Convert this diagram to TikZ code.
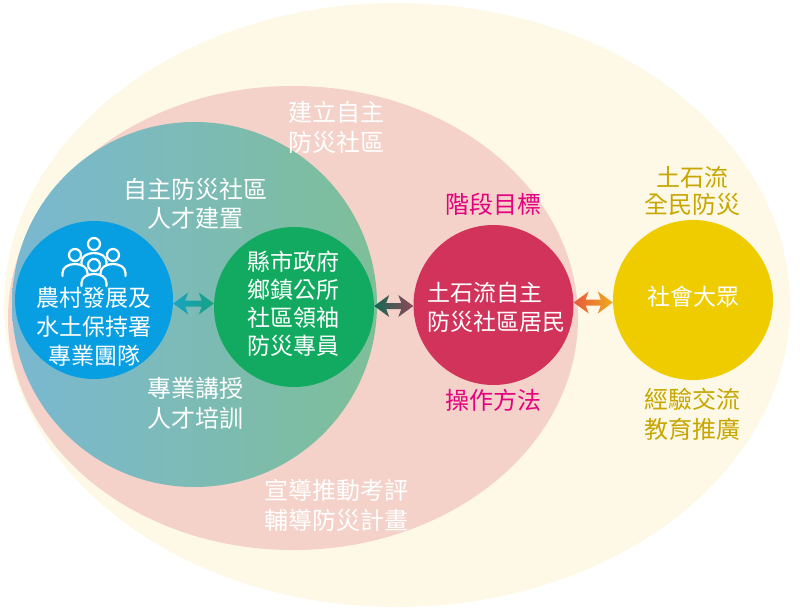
\documentclass[tikz,border=0pt]{standalone}
\usepackage{fontspec}
\setmainfont{Noto Sans CJK TC}
\usetikzlibrary{calc}
\definecolor{outerY}{RGB}{253,249,230}
\definecolor{pinkE}{RGB}{244,210,201}
\definecolor{tealL}{RGB}{122,184,210}
\definecolor{tealR}{RGB}{126,190,152}
\definecolor{blueC}{RGB}{8,158,226}
\definecolor{greenC}{RGB}{18,170,96}
\definecolor{redC}{RGB}{209,51,90}
\definecolor{yelC}{RGB}{239,204,0}
\definecolor{magT}{RGB}{228,0,127}
\definecolor{dyT}{RGB}{200,166,0}
\definecolor{aBl}{RGB}{25,165,195}
\definecolor{aBr}{RGB}{22,160,128}
\definecolor{aGl}{RGB}{20,104,82}
\definecolor{aGr}{RGB}{146,70,90}
\definecolor{aRl}{RGB}{232,88,60}
\definecolor{aRr}{RGB}{240,172,30}
\newcommand{\dbarrow}[4]{%
  \shade[left color=#3, right color=#4] let \p1=(#1.east), \p2=(#2.west), \n1={(\y1+\y2)/2} in
  (\x1,\n1) -- ({\x1+15pt},{\n1+11pt}) -- ({\x1+12pt},{\n1+3pt}) -- ({\x2-12pt},{\n1+3pt})
  -- ({\x2-15pt},{\n1+11pt}) -- (\x2,\n1) -- ({\x2-15pt},{\n1-11pt}) -- ({\x2-12pt},{\n1-3pt})
  -- ({\x1+12pt},{\n1-3pt}) -- ({\x1+15pt},{\n1-11pt}) -- cycle;}
\newcommand{\person}[2]{%
  \filldraw[personline] (#1-12.5,#2+21) -- (#1-12.5,#2+18) .. controls (#1-12.5,#2+6) and (#1+12.5,#2+6) .. (#1+12.5,#2+18) -- (#1+12.5,#2+21);
  \filldraw[personline] (#1,#2) circle [radius=6pt];}
\begin{document}
\begin{tikzpicture}[x=1pt,y=-1pt,
  ball/.style={circle, inner sep=0pt, minimum size=#1},
  txt/.style={align=center, inner sep=0pt, text=white, font=\fontsize{24}{30}\selectfont},
  intxt/.style={align=center, inner sep=0pt, text=white, font=\fontsize{23}{29}\selectfont},
  personline/.style={draw=white, fill=blueC, line width=2.2pt, line cap=round, line join=round}]
\useasboundingbox (0,0) rectangle (800,612);
\fill[outerY] (397,305) ellipse [x radius=393pt, y radius=302pt];
\fill[pinkE] (293,318) ellipse [x radius=285pt, y radius=232pt];
\shade[left color=tealL, right color=tealR] (194.5,304.5) circle [radius=182.5pt];
\node[ball=158pt, fill=blueC] (blue) at (94,300) {};
\node[ball=160pt, fill=greenC] (green) at (294,307) {};
\node[ball=160pt, fill=redC] (red) at (493.5,305) {};
\node[ball=160pt, fill=yelC] (yel) at (693,300) {};
% people icon
\person{94}{244}
\person{75}{255}
\person{113}{255}
\person{94}{265}
% arrows
\dbarrow{blue}{green}{aBl}{aBr}
\dbarrow{green}{red}{aGl}{aGr}
\dbarrow{red}{yel}{aRl}{aRr}
% texts
\node[txt] (t1) at (336,127) {建立自主\\防災社區};
\node[txt, font=\fontsize{24}{28.5}\selectfont] (t2) at (195,204) {自主防災社區\\人才建置};
\node[txt] (t3) at (195,403) {專業講授\\人才培訓};
\node[txt] (t4) at (336,505) {宣導推動考評\\輔導防災計畫};
\node[txt, text=magT] (t5) at (493,204) {階段目標};
\node[txt, text=magT] (t6) at (493,400) {操作方法};
\node[txt, text=dyT, font=\fontsize{24}{27}\selectfont] (t7) at (692,190.5) {土石流\\全民防災};
\node[txt, text=dyT] (t8) at (692,414) {經驗交流\\教育推廣};
\node[intxt] (tb) at (94,327) {農村發展及\\水土保持署\\專業團隊};
\node[intxt, font=\fontsize{23}{28}\selectfont] (tg) at (293,303.5) {縣市政府\\鄉鎮公所\\社區領袖\\防災專員};
\node[intxt, align=left, anchor=west] (tr) at (427,307.5) {土石流自主\\防災社區居民};
\node[intxt] (ty) at (693,297) {社會大眾};
\end{tikzpicture}
\end{document}
